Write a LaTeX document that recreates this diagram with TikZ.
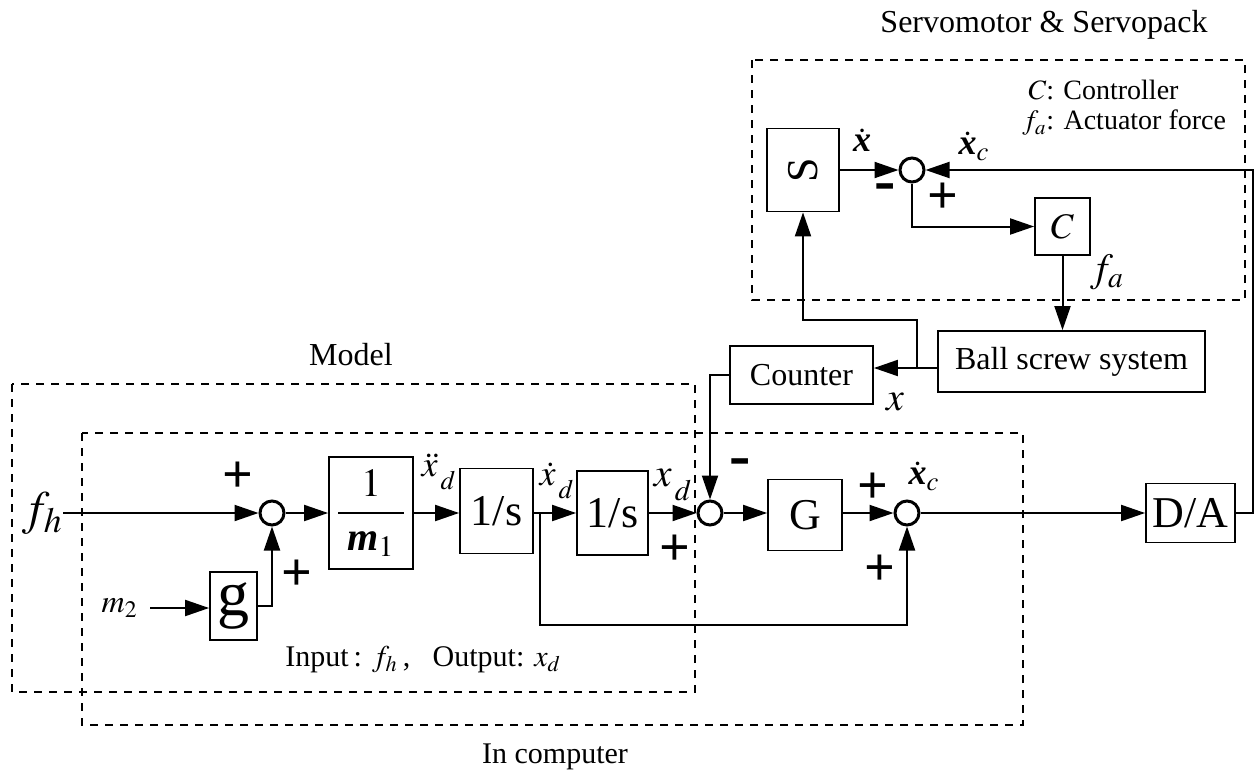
\documentclass[tikz,border=0pt]{standalone}
\usepackage{mathptmx}
\usepackage{graphicx}
\usepackage{fontspec}
\setmainfont{Liberation Serif}
\usetikzlibrary{arrows.meta}
\newcommand{\fs}[1]{\fontsize{#1}{#1}\selectfont}
\newcommand{\bx}{\mbox{\bfseries\itshape x}}
\newcommand{\lowsub}[1]{_{\,\lower4pt\hbox{$\scriptstyle #1$}}}
\begin{document}
\begin{tikzpicture}[x=0.5pt,y=-0.5pt,
  >={Triangle[length=12pt,width=8pt]},
  blk/.style={draw,line width=0.9pt,inner sep=0pt,align=center},
  sumc/.style={draw,circle,line width=1.5pt,minimum size=12pt,inner sep=0pt},
  wire/.style={line width=1pt},
  grp/.style={line width=0.9pt,dash pattern=on 4pt off 3.5pt},
  lbl/.style={inner sep=0pt},
  pls/.style={inner sep=0pt,font=\fs{27}\bfseries},
  mns/.style={inner sep=0pt,font=\fs{32}\bfseries},
]
\useasboundingbox (0,0) rectangle (1256,771);

% group boxes
\draw[grp] (752,60) rectangle (1245,300);
\draw[grp] (12,384) rectangle (695,692);
\draw[grp] (82,433) rectangle (1023,725);
\node[lbl,font=\fs{16}] (tServo) at (1044,25) {Servomotor \& Servopack};
\node[lbl,font=\fs{16}] (tModel) at (351,355) {Model};
\node[lbl,font=\fs{15}] (tComp) at (555,757) {In computer};
\node[lbl,font=\fs{14},anchor=west] (tC) at (1028,90) {$C$: Controller};
\node[lbl,font=\fs{14},anchor=west] (tF) at (1022,123) {$f_a$: Actuator force};
\node[lbl,font=\fs{15},anchor=west] (tIO) at (285,660) {Input\,: $f_h$\,,~~~Output: $x_d$};

% main chain
\node[lbl,anchor=east,font=\fs{24}] (fh) at (63,513) {$f_h$};
\node[sumc] (sum1) at (272,513) {};
\node[blk,minimum width=42pt,minimum height=56pt,font=\fs{20}] (m1box) at (371,513)
  {$\displaystyle\frac{1}{\makebox[33pt]{$\mbox{\bfseries\itshape m}_{1}$}}$};
\node[blk,minimum width=36.5pt,minimum height=42.5pt,font=\fs{22}] (int1) at (496.5,511) {1/s};
\node[blk,minimum width=35.5pt,minimum height=42pt,font=\fs{22}] (int2) at (612.5,513) {1/s};
\node[sumc] (sum2) at (710,513) {};
\node[blk,minimum width=37pt,minimum height=35.5pt,font=\fs{22}] (G) at (805,515) {G};
\node[sumc] (sum3) at (907,513) {};
\node[blk,minimum width=44.5pt,minimum height=29.5pt,font=\fs{22}] (DA) at (1190.5,513) {D/A};
\node[blk,minimum width=23.5pt,minimum height=34pt,font=\fs{32}] (gbox) at (233.5,606) {g};
\node[lbl,anchor=east,inner xsep=6pt,font=\fs{16}] (m2) at (150,608) {$m_2$};

% upper part
\node[blk,minimum width=71.5pt,minimum height=29pt,font=\fs{16}] (Counter) at (801.5,375) {Counter};
\node[blk,minimum width=133.5pt,minimum height=30.5pt,font=\fs{16}] (Ball) at (1071.5,361.5) {Ball screw system};
\node[blk,minimum width=36pt,minimum height=41.5pt,font=\fs{22}] (S) at (803,170) {\rotatebox{90}{S}};
\node[sumc] (sum4) at (912,170) {};
\node[blk,minimum width=27.5pt,minimum height=28.5pt,font=\fs{18}] (C) at (1062.5,226.5) {$C$};

% signal labels
\node[lbl,font=\fs{18}] (lxdd) at (439,472) {$\ddot{x}\lowsub{d}$};
\node[lbl,font=\fs{18}] (lxd1) at (557,481) {$\dot{x}\lowsub{d}$};
\node[lbl,font=\fs{20}] (lxd) at (673,485) {$x\lowsub{d}$};
\node[lbl,font=\fs{18}] (lxc1) at (924,476) {$\dot{\bx}_{c}$};
\node[lbl,font=\fs{18}] (lxs) at (862,140) {$\dot{\bx}$};
\node[lbl,font=\fs{18}] (lxc2) at (974,146) {$\dot{\bx}_{c}$};
\node[lbl,font=\fs{20}] (lfa) at (1107,272) {$f_a$};
\node[lbl,font=\fs{20}] (lx) at (895,402) {$x$};

% signs
\node[pls] (p1) at (238,477) {+};
\node[pls] (p2) at (297,575) {+};
\node[mns] (n1) at (740,468) {-};
\node[pls] (p3) at (675,550) {+};
\node[pls] (p4) at (873,488) {+};
\node[pls] (p5) at (880,570) {+};
\node[mns] (n2) at (885,193) {-};
\node[pls] (p6) at (943,198) {+};

% coordinates
\coordinate (br1) at (540,513);
\coordinate (ffb) at (540,625);
\coordinate (bw) at ([yshift=-3.25pt]Ball.west);
\coordinate (br2) at (917,368);
\coordinate (fbk) at (917,320);
\coordinate (ur) at (1253,170);

% connectors
\draw[wire,->] (fh.east) -- (sum1.west);
\draw[wire,->] (sum1.east) -- (m1box.west);
\draw[wire,->] (m1box.east) -- (int1.west |- m1box.east);
\draw[wire,->] (int1.east |- br1) -- (int2.west);
\draw[wire,->] (int2.east) -- (sum2.west);
\draw[wire,->] (sum2.east) -- (G.west |- sum2.east);
\draw[wire,->] (G.east |- sum3.west) -- (sum3.west);
\draw[wire,->] (sum3.east) -- (DA.west);
\draw[wire,->] (br1) -- (ffb) -| (sum3.south);
\draw[wire,->] (m2.east) -- (gbox.west |- m2.east);
\draw[wire,->] (gbox.east) -| (sum1.south);
\draw[wire,->] (Counter.west) -| (sum2.north);
\draw[wire,->] (bw) -- (bw -| Counter.east);
\draw[wire,->] (br2) -- (fbk) -| (S.south);
\draw[wire,->] (S.east) -- (sum4.west);
\draw[wire,->] (sum4.south) |- (C.west);
\draw[wire,->] (C.south) -- (C.south |- Ball.north);
\draw[wire,->] (DA.east) -| (ur) -- (sum4.east);
\end{tikzpicture}
\end{document}
